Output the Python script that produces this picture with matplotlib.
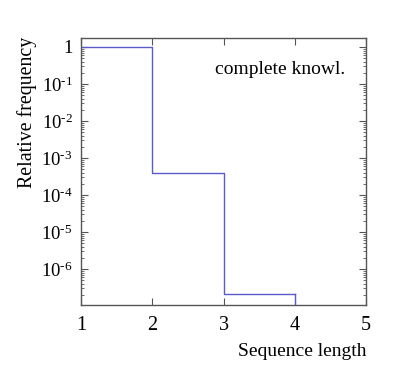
import numpy as np
import matplotlib.pyplot as plt
from matplotlib.ticker import LogLocator

plt.rcParams['font.family'] = ['Liberation Serif', 'DejaVu Serif']
plt.rcParams['mathtext.fontset'] = 'custom'
plt.rcParams['mathtext.rm'] = 'Liberation Serif'
plt.rcParams['mathtext.it'] = 'Liberation Serif:italic'

# sequence length bins and relative frequency per bin
lengths = [1, 2, 3, 4]
freq = [0.9996, 4.0e-4, 2.1e-7]
y_ticks = [1, 1e-1, 1e-2, 1e-3, 1e-4, 1e-5, 1e-6]
y_labels = ['1', '$10^{\\text{-}1}$', '$10^{\\text{-}2}$', '$10^{\\text{-}3}$',
            '$10^{\\text{-}4}$', '$10^{\\text{-}5}$', '$10^{\\text{-}6}$']

fig = plt.figure(figsize=(4.07, 3.82), dpi=100)
ax = fig.add_axes([81 / 407, 1 - 305 / 382, 285 / 407, 267 / 382])

ymin = 1.07e-7
# histogram-style outline
ax.step(lengths, freq + [freq[-1]], where='post', color='#5a5ac8', lw=1.0)
ax.plot([lengths[-1], lengths[-1]], [freq[-1], ymin], color='#5a5ac8', lw=1.0)

ax.set_yscale('log')
ax.set_xlim(1, 5)
ax.set_ylim(ymin, 1.75)
ax.set_xticks([1, 2, 3, 4, 5])
ax.set_xticklabels(['1', '2', '3', '4', '5'])
ax.set_yticks(y_ticks)
ax.set_yticklabels(y_labels)
ax.yaxis.set_minor_locator(LogLocator(base=10, subs=np.arange(2, 10)))
ax.yaxis.set_minor_formatter(plt.NullFormatter())

ax.tick_params(which='both', direction='in', top=True, right=True,
               colors='#555555', labelcolor='black')
ax.tick_params(which='major', length=5, width=0.8)
ax.tick_params(axis='x', which='major', pad=8, labelsize=14.5)
ax.tick_params(axis='y', which='major', pad=6, labelsize=13.5)
ax.tick_params(which='minor', length=2.5, width=0.6)
for s in ax.spines.values():
    s.set_color('#555555')
    s.set_linewidth(1.0)

fig.text(27 / 407, 1 - 112 / 382, 'Relative frequency', rotation=90,
         ha='center', va='center', fontsize=14.3)
fig.text(366 / 407, 1 - 352 / 382, 'Sequence length', ha='right',
         va='center', fontsize=14)
fig.text(280 / 407, 1 - 70 / 382, 'complete knowl.',
         ha='center', va='center', fontsize=14)

fig.savefig('out.png', dpi=100)
